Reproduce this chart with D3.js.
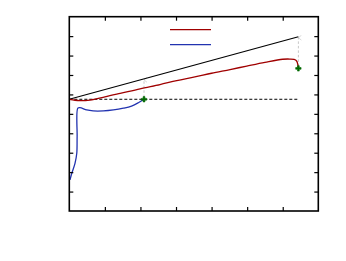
<!DOCTYPE html>
<html>
<head>
<meta charset="utf-8">
<script src="https://cdn.jsdelivr.net/npm/d3@7"></script>
<style>
  body { margin: 0; background: #fff; }
  svg { display: block; }
</style>
</head>
<body>
<div id="chart"></div>
<script>
// values (axis units: x 0..7, y 0..10)
var xTicks = [1, 2, 3, 4, 5, 6];
var yTicks = [1, 2, 3, 4, 5, 6, 7, 8, 9];

var baseLevel = 5.75;
var refLine = [[0, 5.75], [6.44, 8.97]];

var redCurve = [
  [0, 5.75], [0.16, 5.70], [0.30, 5.68], [0.58, 5.71], [1.0, 5.87],
  [1.43, 6.05], [1.99, 6.29], [2.55, 6.51], [3.02, 6.71], [3.53, 6.90],
  [4.0, 7.09], [4.52, 7.28], [4.99, 7.46], [5.50, 7.65], [6.0, 7.81],
  [6.20, 7.82], [6.32, 7.80], [6.39, 7.72], [6.42, 7.57], [6.44, 7.34]
];

var blueCurve = [
  [0.02, 1.60], [0.07, 1.94], [0.16, 2.45], [0.21, 2.97], [0.22, 3.82],
  [0.24, 5.29], [0.30, 5.32], [0.49, 5.20], [0.67, 5.15], [0.96, 5.15],
  [1.24, 5.20], [1.52, 5.29], [1.75, 5.40], [1.94, 5.57], [2.10, 5.75]
];

var endPoints = [[2.10, 5.75], [6.44, 7.34]];

var width = 346, height = 261;
var margin = {left: 69.3, right: 27.7, top: 16.7, bottom: 50};

var svg = d3.select("#chart").append("svg")
  .attr("width", width)
  .attr("height", height);

var x = d3.scaleLinear().domain([0, 7]).range([margin.left, width - margin.right]);
var y = d3.scaleLinear().domain([0, 10]).range([height - margin.bottom, margin.top]);

svg.append("defs").append("marker")
  .attr("id", "arr")
  .attr("viewBox", "0 0 10 10")
  .attr("refX", 5).attr("refY", 1)
  .attr("markerWidth", 6).attr("markerHeight", 6)
  .attr("orient", "auto-start-reverse")
  .append("path")
  .attr("d", "M1,6 L5,1 L9,6")
  .attr("fill", "none")
  .attr("stroke", "#c8c8c8")
  .attr("stroke-width", 1.2);

var line = d3.line()
  .x(function(d) { return x(d[0]); })
  .y(function(d) { return y(d[1]); });

var smooth = d3.line()
  .x(function(d) { return x(d[0]); })
  .y(function(d) { return y(d[1]); })
  .curve(d3.curveMonotoneX);

// horizontal dashed base level
svg.append("line")
  .attr("x1", x(0)).attr("x2", x(6.44))
  .attr("y1", y(baseLevel)).attr("y2", y(baseLevel))
  .attr("stroke", "#000")
  .attr("stroke-width", 1)
  .attr("stroke-dasharray", "3,2");

// gray arrows from end points up to the reference line
var slope = (refLine[1][1] - refLine[0][1]) / (refLine[1][0] - refLine[0][0]);
endPoints.forEach(function(p) {
  var top = refLine[0][1] + slope * (p[0] - refLine[0][0]);
  svg.append("line")
    .attr("x1", x(p[0])).attr("x2", x(p[0]))
    .attr("y1", y(p[1]) - 2).attr("y2", y(top) + 1)
    .attr("stroke", "#c8c8c8")
    .attr("stroke-width", 1)
    .attr("stroke-dasharray", "2.5,2")
    .attr("marker-end", "url(#arr)");
});

svg.append("path").datum(refLine)
  .attr("d", line)
  .attr("fill", "none")
  .attr("stroke", "#000")
  .attr("stroke-width", 1.2);

svg.append("path").datum(redCurve)
  .attr("d", d3.line().x(function(d) { return x(d[0]); }).y(function(d) { return y(d[1]); }).curve(d3.curveCatmullRom))
  .attr("fill", "none")
  .attr("stroke", "#a00000")
  .attr("stroke-width", 1.3);

svg.append("path").datum(blueCurve)
  .attr("d", d3.line().x(function(d) { return x(d[0]); }).y(function(d) { return y(d[1]); }).curve(d3.curveCatmullRom))
  .attr("fill", "none")
  .attr("stroke", "#2233b0")
  .attr("stroke-width", 1.3);

svg.selectAll(".endpt").data(endPoints).enter().append("path")
  .attr("class", "endpt")
  .attr("transform", function(d) { return "translate(" + x(d[0]) + "," + y(d[1]) + ")"; })
  .attr("d", d3.symbol().type(d3.symbolCross).size(16))
  .attr("fill", "#006a00")
  .attr("stroke", "#006a00")
  .attr("stroke-width", 0.6);

// legend (line samples only)
var legend = [["#a00000", 29.7], ["#2233b0", 44.7]];
legend.forEach(function(l) {
  svg.append("line")
    .attr("x1", 170).attr("x2", 211)
    .attr("y1", l[1]).attr("y2", l[1])
    .attr("stroke", l[0])
    .attr("stroke-width", 1.3);
});

// inward ticks on all four sides
var tk = 4;
svg.append("g").attr("transform", "translate(0," + y(0) + ")")
  .call(d3.axisTop(x).tickValues(xTicks).tickSize(tk).tickFormat(""))
  .call(function(g) { g.select(".domain").remove(); });
svg.append("g").attr("transform", "translate(0," + y(10) + ")")
  .call(d3.axisBottom(x).tickValues(xTicks).tickSize(tk).tickFormat(""))
  .call(function(g) { g.select(".domain").remove(); });
svg.append("g").attr("transform", "translate(" + x(0) + ",0)")
  .call(d3.axisRight(y).tickValues(yTicks).tickSize(tk).tickFormat(""))
  .call(function(g) { g.select(".domain").remove(); });
svg.append("g").attr("transform", "translate(" + x(7) + ",0)")
  .call(d3.axisLeft(y).tickValues(yTicks).tickSize(tk).tickFormat(""))
  .call(function(g) { g.select(".domain").remove(); });
svg.selectAll(".tick line").attr("stroke-width", 1.2);

// frame
svg.append("rect")
  .attr("x", x(0)).attr("y", y(10))
  .attr("width", x(7) - x(0))
  .attr("height", y(0) - y(10))
  .attr("fill", "none")
  .attr("stroke", "#000")
  .attr("stroke-width", 1.6);
</script>
</body>
</html>
